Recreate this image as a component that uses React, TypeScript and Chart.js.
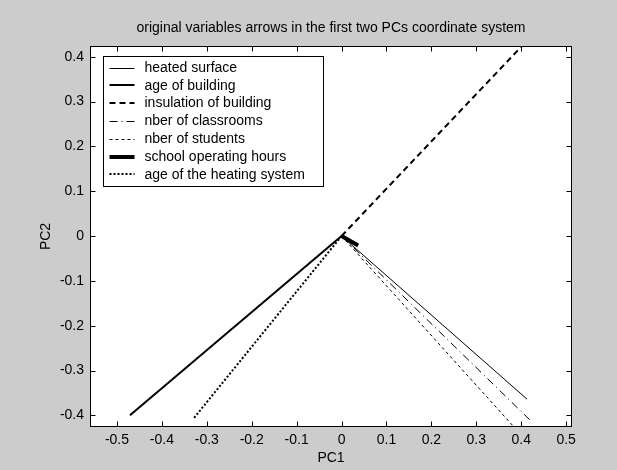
import React, { useEffect, useRef } from "react";
import { Chart, registerables } from "chart.js";

Chart.register(...registerables);

const TITLE = "original variables arrows in the first two PCs coordinate system";
const X_LABEL = "PC1";
const Y_LABEL = "PC2";

const VARIABLES = [
  "heated surface",
  "age of building",
  "insulation of building",
  "nber of classrooms",
  "nber of students",
  "school operating hours",
  "age of the heating system",
];
// arrow end points (arrows start at the origin)
const PC1_END = [0.413, -0.471, 0.43, 0.424, 0.392, 0.037, -0.331];
const PC2_END = [-0.364, -0.4, 0.454, -0.415, -0.435, -0.021, -0.409];

const X_TICKS = [-0.5, -0.4, -0.3, -0.2, -0.1, 0, 0.1, 0.2, 0.3, 0.4, 0.5];
const Y_TICKS = [-0.4, -0.3, -0.2, -0.1, 0, 0.1, 0.2, 0.3, 0.4];
const X_MIN = -0.56;
const X_MAX = 0.513;
const Y_MIN = -0.426;
const Y_MAX = 0.424;

const LINE_WIDTHS = [1, 2, 2, 1, 1, 4, 2];
const LINE_DASHES: number[][] = [[], [], [6, 4], [8, 4, 1, 4], [3, 3], [], [2, 2]];

const FONT = 'Arial, "Liberation Sans", Helvetica, sans-serif';
const FIG_BG = "#cccccc";

const fmt = (v: number) => {
  const r = Math.round(v * 10) / 10;
  return r === 0 ? "0" : String(r);
};

const matlabFrame = {
  id: "matlabFrame",
  beforeDraw(chart: any) {
    const { ctx, chartArea: a, width, height } = chart;
    ctx.save();
    ctx.fillStyle = FIG_BG;
    ctx.fillRect(0, 0, width, height);
    ctx.fillStyle = "#ffffff";
    ctx.fillRect(a.left, a.top, a.right - a.left, a.bottom - a.top);
    ctx.restore();
  },
  afterDraw(chart: any) {
    const { ctx, chartArea: a } = chart;
    const xs = chart.scales.x;
    const ys = chart.scales.y;
    const L = Math.round(a.left) + 0.5;
    const R = Math.round(a.right) - 0.5;
    const T = Math.round(a.top) + 0.5;
    const B = Math.round(a.bottom) - 0.5;
    ctx.save();
    ctx.strokeStyle = "#000";
    ctx.lineWidth = 1;
    ctx.setLineDash([]);
    ctx.strokeRect(L, T, R - L, B - T);
    const tl = 5;
    ctx.beginPath();
    X_TICKS.forEach((v) => {
      const x = Math.round(xs.getPixelForValue(v)) + 0.5;
      ctx.moveTo(x, B);
      ctx.lineTo(x, B - tl);
      ctx.moveTo(x, T);
      ctx.lineTo(x, T + tl);
    });
    Y_TICKS.forEach((v) => {
      const y = Math.round(ys.getPixelForValue(v)) + 0.5;
      ctx.moveTo(L, y);
      ctx.lineTo(L + tl, y);
      ctx.moveTo(R, y);
      ctx.lineTo(R - tl, y);
    });
    ctx.stroke();

    // title
    ctx.fillStyle = "#000";
    ctx.font = `14px ${FONT}`;
    ctx.textAlign = "center";
    ctx.textBaseline = "middle";
    ctx.fillText(TITLE, (a.left + a.right) / 2, a.top - 17.5);

    // legend
    const bx = Math.round(a.left) + 13 + 0.5;
    const by = Math.round(a.top) + 10 + 0.5;
    const bw = 220;
    const bh = 130;
    ctx.fillStyle = "#fff";
    ctx.fillRect(bx, by, bw, bh);
    ctx.strokeStyle = "#000";
    ctx.lineWidth = 1;
    ctx.strokeRect(bx, by, bw, bh);
    chart.data.datasets.forEach((ds: any, i: number) => {
      const y = by + 11 + i * 17.8;
      const yl = ds.borderWidth % 2 === 1 ? Math.round(y) + 0.5 : Math.round(y);
      ctx.beginPath();
      ctx.lineWidth = ds.borderWidth;
      ctx.setLineDash(ds.borderDash || []);
      ctx.strokeStyle = "#000";
      ctx.moveTo(bx + 6, yl);
      ctx.lineTo(bx + 31, yl);
      ctx.stroke();
      ctx.setLineDash([]);
      ctx.fillStyle = "#000";
      ctx.textAlign = "left";
      ctx.textBaseline = "middle";
      ctx.fillText(ds.label, bx + 41, y + 0.5);
    });
    ctx.restore();
  },
};

export default function App() {
  const ref = useRef<HTMLCanvasElement | null>(null);
  useEffect(() => {
    if (!ref.current) return;
    const datasets = VARIABLES.map((name, i) => ({
      label: name,
      data: [
        { x: 0, y: 0 },
        { x: PC1_END[i], y: PC2_END[i] },
      ],
      showLine: true,
      borderColor: "#000",
      backgroundColor: "#000",
      borderWidth: LINE_WIDTHS[i],
      borderDash: LINE_DASHES[i],
      borderCapStyle: "butt",
      pointRadius: 0,
      pointHoverRadius: 0,
      fill: false,
    }));
    const chart = new Chart(ref.current, {
      type: "scatter",
      data: { datasets },
      options: {
        animation: false,
        responsive: false,
        devicePixelRatio: 1,
        events: [],
        font: { family: FONT, size: 14 },
        layout: { padding: { left: 0, right: 45, top: 46, bottom: 0 } },
        plugins: {
          legend: { display: false },
          title: { display: false },
          tooltip: { enabled: false },
        },
        scales: {
          x: {
            type: "linear",
            min: X_MIN,
            max: X_MAX,
            grid: { display: false, drawTicks: false },
            border: { display: false },
            afterBuildTicks: (s: any) => {
              s.ticks = X_TICKS.map((v) => ({ value: v }));
            },
            afterFit: (s: any) => {
              s.height = 43;
            },
            ticks: {
              padding: 5,
              color: "#000",
              font: { family: FONT, size: 14 },
              autoSkip: false,
              maxRotation: 0,
              callback: (v: any) => fmt(Number(v)),
            },
            title: {
              display: true,
              text: X_LABEL,
              color: "#000",
              font: { family: FONT, size: 14 },
              padding: { top: 0, bottom: 3 },
            },
          },
          y: {
            type: "linear",
            min: Y_MIN,
            max: Y_MAX,
            grid: { display: false, drawTicks: false },
            border: { display: false },
            afterBuildTicks: (s: any) => {
              s.ticks = Y_TICKS.map((v) => ({ value: v }));
            },
            afterFit: (s: any) => {
              s.width = 90;
            },
            ticks: {
              padding: 6,
              color: "#000",
              font: { family: FONT, size: 14 },
              autoSkip: false,
              callback: (v: any) => fmt(Number(v)),
            },
            title: {
              display: true,
              text: Y_LABEL,
              color: "#000",
              font: { family: FONT, size: 14 },
              padding: { top: 38, bottom: 0 },
            },
          },
        },
      } as any,
      plugins: [matlabFrame],
    });
    return () => chart.destroy();
  }, []);
  return (
    <div style={{ position: "fixed", left: 0, top: 0, width: 617, height: 470, background: FIG_BG }}>
      <canvas ref={ref} width={617} height={470} style={{ display: "block", width: 617, height: 470 }} />
    </div>
  );
}
